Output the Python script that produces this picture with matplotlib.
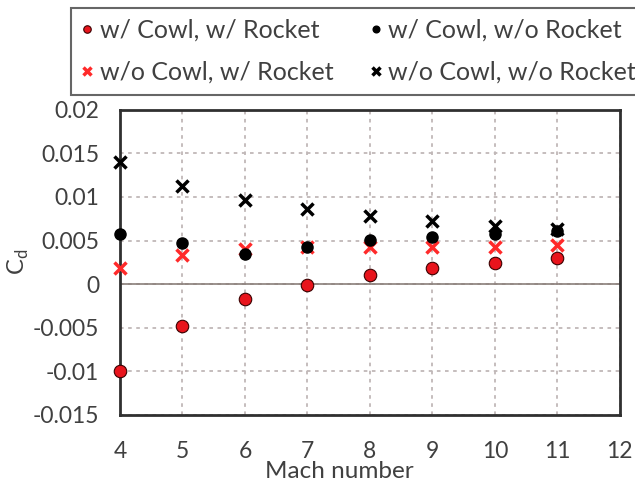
import matplotlib
matplotlib.use("Agg")
import matplotlib.pyplot as plt

plt.rcParams['font.family'] = ['Lato', 'DejaVu Sans']

mach = [4, 5, 6, 7, 8, 9, 10, 11]
cowl_rocket = [-0.0100, -0.0048, -0.0017, -0.0001, 0.0011, 0.0018, 0.0024, 0.0030]
cowl_norocket = [0.0057, 0.0047, 0.0035, 0.0043, 0.0051, 0.0054, 0.0058, 0.0061]
nocowl_rocket = [0.0019, 0.0033, 0.0040, 0.0042, 0.0042, 0.0043, 0.0043, 0.0045]
nocowl_norocket = [0.0140, 0.0113, 0.0097, 0.0086, 0.0078, 0.0072, 0.0067, 0.0063]
xticks = [4, 5, 6, 7, 8, 9, 10, 11, 12]
yticks = [-0.015, -0.01, -0.005, 0, 0.005, 0.01, 0.015, 0.02]
ytick_labels = ['-0.015', '-0.01', '-0.005', '0', '0.005', '0.01', '0.015', '0.02']

txt = '#404040'
fig = plt.figure(figsize=(6.35, 4.88), dpi=100)
ax = fig.add_axes([0.189, 0.150, 0.787, 0.625])

h2, = ax.plot(mach, nocowl_rocket, 'x', color='#ff2a2a', ms=9, mew=2.5,
              clip_on=False, zorder=3)
h1, = ax.plot(mach, cowl_rocket, 'o', mfc='#e8141c', mec='#3a0000', mew=0.8, ms=9,
              clip_on=False, zorder=4)
h3, = ax.plot(mach, cowl_norocket, 'o', color='black', ms=8, clip_on=False, zorder=5)
h4, = ax.plot(mach, nocowl_norocket, 'x', color='black', ms=9, mew=2.5,
              clip_on=False, zorder=6)

ax.set_xlim(4, 12)
ax.set_ylim(-0.015, 0.02)
ax.set_xticks(xticks)
ax.set_yticks(yticks)
ax.set_yticklabels(ytick_labels)
ax.axhline(0, color='#8a7f7a', lw=1.2, zorder=2)
ax.grid(True, color='#c0b8b8', ls=(0, (2, 2.5)), lw=1.3, zorder=1)
for s in ax.spines.values():
    s.set_linewidth(2)
    s.set_color('#303030')
ax.tick_params(length=0, labelsize=16.5, colors=txt)
ax.tick_params(axis='x', pad=19)
ax.tick_params(axis='y', pad=15)
ax.set_xlabel('Mach number', fontsize=17.5, color=txt)
ax.xaxis.set_label_coords(0.438, -0.15)
ax.set_ylabel(r'C$_\mathregular{d}$', fontsize=17, color=txt, labelpad=1)

leg = fig.legend(handles=[h1, h2, h3, h4],
                 labels=['w/ Cowl, w/ Rocket', 'w/o Cowl, w/ Rocket',
                         'w/ Cowl, w/o Rocket', 'w/o Cowl, w/o Rocket'],
                 loc='upper left', bbox_to_anchor=(0.112, 0.984), ncol=2,
                 fontsize=18, markerscale=0.6, handlelength=0.4, handletextpad=0.3,
                 columnspacing=1.5, fancybox=False, edgecolor='#404040',
                 borderpad=0.45, borderaxespad=0, labelspacing=0.75)
leg.get_frame().set_linewidth(1.5)
for t in leg.get_texts():
    t.set_color(txt)

fig.savefig('out.png', dpi=100)
